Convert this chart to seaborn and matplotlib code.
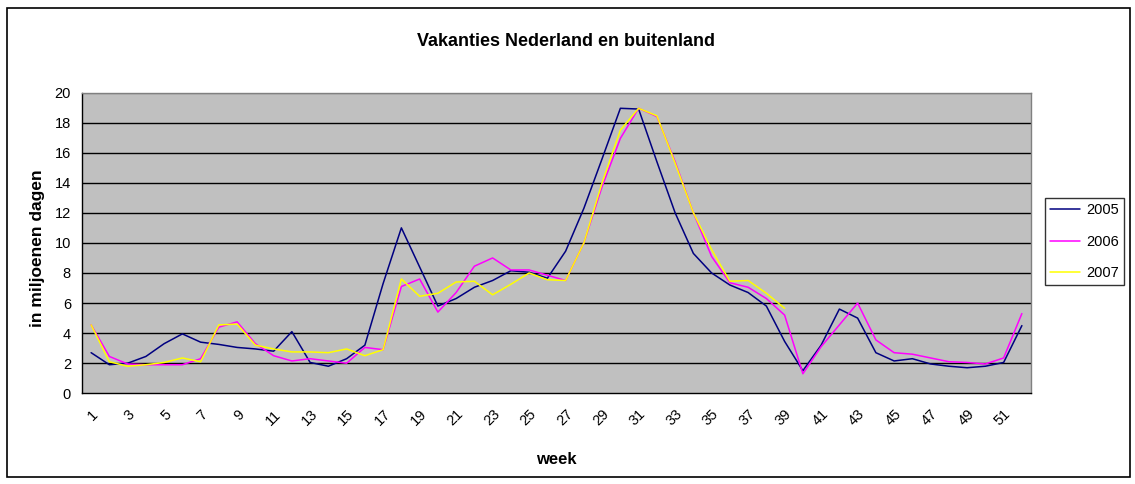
import matplotlib
matplotlib.use("Agg")
import matplotlib.pyplot as plt
import seaborn as sns
import pandas as pd
import numpy as np
from matplotlib.patches import Rectangle

v2005 = [2.7, 1.9, 2.0, 2.45, 3.3, 3.95, 3.4, 3.25, 3.05, 2.95,
         2.8, 4.1, 2.05, 1.8, 2.3, 3.2, 7.3, 11.0, 8.4, 5.8,
         6.3, 7.05, 7.5, 8.15, 8.05, 7.65, 9.45, 12.3, 15.6, 18.95,
         18.9, 15.4, 12.0, 9.3, 8.0, 7.2, 6.7, 5.8, 3.45, 1.5,
         3.2, 5.6, 5.0, 2.7, 2.15, 2.3, 1.95, 1.8, 1.7, 1.8,
         2.05, 4.5]
v2006 = [4.55, 2.45, 1.95, 1.9, 1.9, 1.9, 2.3, 4.4, 4.75, 3.3,
         2.5, 2.15, 2.3, 2.15, 2.0, 3.05, 2.9, 7.1, 7.6, 5.4,
         6.7, 8.45, 9.0, 8.2, 8.2, 7.85, 7.5, 10.0, 13.75, 16.95,
         18.95, 18.4, 15.4, 12.0, 9.1, 7.35, 7.05, 6.3, 5.2, 1.3,
         3.1, 4.55, 6.0, 3.55, 2.7, 2.6, 2.35, 2.1, 2.05, 1.95,
         2.35, 5.3]
v2007 = [4.55, 2.1, 1.8, 1.9, 2.05, 2.35, 2.1, 4.55, 4.6, 3.2,
         2.95, 2.75, 2.75, 2.7, 2.95, 2.5, 2.9, 7.6, 6.45, 6.65,
         7.4, 7.45, 6.55, 7.25, 8.0, 7.55, 7.5, 10.0, 14.0, 17.5,
         18.95, 18.45, 15.3, 12.0, 9.55, 7.45, 7.5, 6.65, 5.65]
series_names = ["2005", "2006", "2007"]
colors = ["#000080", "#FF00FF", "#FFFF00"]
x_tick_labels = [str(w) for w in range(1, 53, 2)]
y_ticks = list(range(0, 21, 2))

rows = []
for name, vals in zip(series_names, [v2005, v2006, v2007]):
    for i, v in enumerate(vals):
        rows.append({"week": i + 1, "waarde": v, "jaar": name})
df = pd.DataFrame(rows)

sns.set_style("white")
plt.rcParams["font.family"] = ["Liberation Sans", "DejaVu Sans"]
for key in ["text.color", "axes.labelcolor", "xtick.color", "ytick.color"]:
    plt.rcParams[key] = "black"

fig = plt.figure(figsize=(11.35, 4.84), dpi=100)
ax = fig.add_axes([82 / 1135, 1 - 393.3 / 484, (1031 - 82) / 1135, (393.3 - 92.5) / 484])
ax.set_facecolor("#C0C0C0")

sns.lineplot(data=df, x="week", y="waarde", hue="jaar", palette=colors,
             hue_order=series_names, ax=ax, linewidth=1.1, legend=True,
             zorder=3)

ax.set_xlim(0.5, 52.5)
ax.set_ylim(0, 20)
ax.set_yticks(y_ticks)
ax.set_yticklabels([str(t) for t in y_ticks], fontsize=10.5)
ax.set_xticks(list(range(1, 53, 2)))
ax.set_xticklabels(x_tick_labels, rotation=45, ha="right", rotation_mode="anchor",
                   fontsize=10.5)
ax.set_xticks(np.arange(0.5, 53, 1.0), minor=True)
ax.tick_params(axis="x", which="major", length=0, pad=10)
ax.tick_params(axis="x", which="minor", length=5, width=1, color="black", direction="out")
ax.tick_params(axis="y", which="major", length=5, width=1, color="black", direction="out", pad=3)

ax.grid(False)
for t in y_ticks[1:-1]:
    ax.axhline(t, color="black", linewidth=1, zorder=1)
ax.axhline(20, color="#808080", linewidth=1, zorder=1)

for side in ["top", "right"]:
    ax.spines[side].set_color("#808080")
    ax.spines[side].set_linewidth(1)
for side in ["left", "bottom"]:
    ax.spines[side].set_color("black")
    ax.spines[side].set_linewidth(1)
    ax.spines[side].set_visible(True)

ax.set_xlabel("week", fontsize=12, fontweight="bold", va="center")
ax.xaxis.set_label_coords((556 - 82) / 949, (393.3 - 460) / 300.8)
ax.set_ylabel("in miljoenen dagen", fontsize=12.5, fontweight="bold", va="center")
ax.yaxis.set_label_coords((38 - 82) / 949, (393.3 - 248) / 300.8)
fig.text(566 / 1135, 1 - 42 / 484, "Vakanties Nederland en buitenland",
         ha="center", va="center", fontsize=13, fontweight="bold")

handles, labels = ax.get_legend_handles_labels()
leg = fig.legend(handles, labels, loc="upper left",
                 bbox_to_anchor=(1045 / 1135, 1 - 198 / 484),
                 frameon=True, fancybox=False, shadow=False, fontsize=10.5,
                 handlelength=2.05, borderpad=0.35, labelspacing=1.2,
                 handletextpad=0.4, borderaxespad=0)
leg.get_frame().set_edgecolor("black")
leg.get_frame().set_linewidth(1)
if ax.get_legend() is not None:
    ax.get_legend().remove()

fig.patches.append(Rectangle((7 / 1135, 1 - 477 / 484), (1130 - 7) / 1135, (477 - 8) / 484,
                             transform=fig.transFigure, fill=False,
                             edgecolor="black", linewidth=1.2))

fig.savefig("out.png", dpi=100)
